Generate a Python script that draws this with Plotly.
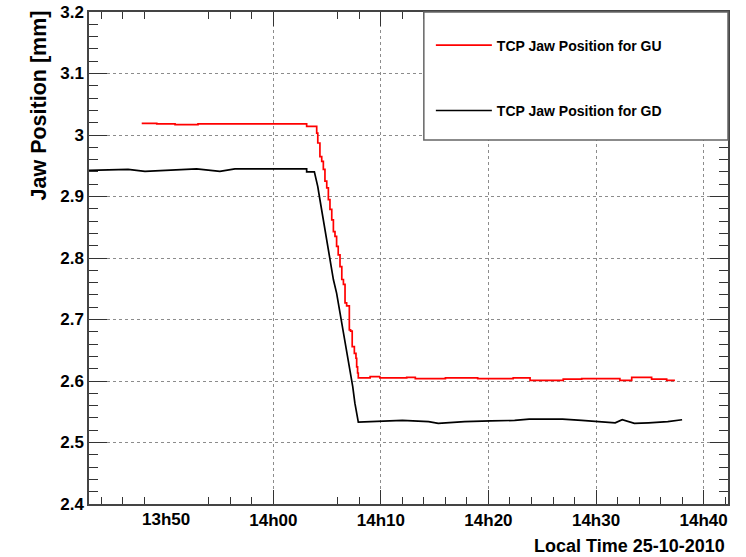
import plotly.graph_objects as go

DAY = "2010-10-25 "

# TCP jaw position, GU side (red)
gu_time = ["13:47:46", "13:49:10", "13:50:52", "13:52:53", "13:53:00", "14:03:06", "14:03:06",
           "14:03:53", "14:04:02", "14:04:08", "14:04:20", "14:04:30", "14:04:39", "14:04:48",
           "14:04:58", "14:05:07", "14:05:16", "14:05:26", "14:05:35", "14:05:44", "14:05:53",
           "14:06:02", "14:06:12", "14:06:22", "14:06:31", "14:06:40", "14:06:49", "14:07:04",
           "14:07:11", "14:07:20", "14:07:32", "14:07:41", "14:07:45", "14:07:50", "14:07:54",
           "14:09:00", "14:09:54", "14:12:24", "14:13:12", "14:16:00", "14:19:00", "14:22:18",
           "14:23:52", "14:26:57", "14:28:40", "14:32:13", "14:33:19", "14:35:10", "14:36:34",
           "14:37:20"]
gu_pos = [3.019, 3.018, 3.017, 3.017, 3.018, 3.018, 3.014,
          3.014, 3.003, 2.987, 2.965, 2.957, 2.944, 2.925,
          2.914, 2.895, 2.879, 2.862, 2.843, 2.835, 2.819,
          2.805, 2.786, 2.765, 2.757, 2.727, 2.722, 2.683,
          2.681, 2.656, 2.645, 2.637, 2.623, 2.613, 2.605,
          2.607, 2.605, 2.606, 2.604, 2.605, 2.604, 2.605,
          2.601, 2.603, 2.604, 2.601, 2.606, 2.603, 2.601,
          2.601]

# TCP jaw position, GD side (black)
gd_time = ["13:42:00", "13:46:30", "13:48:04", "13:50:52", "13:52:52", "13:55:02", "13:56:26",
           "14:03:06", "14:03:06", "14:03:49", "14:03:58", "14:04:08", "14:04:17", "14:04:26",
           "14:04:35", "14:04:44", "14:04:54", "14:05:03", "14:05:13", "14:05:22", "14:05:35",
           "14:05:53", "14:06:12", "14:06:31", "14:06:49", "14:07:08", "14:07:23", "14:07:35",
           "14:07:45", "14:07:54", "14:12:00", "14:14:26", "14:15:20", "14:17:47", "14:20:13",
           "14:22:26", "14:23:47", "14:26:53", "14:28:40", "14:30:08", "14:31:47", "14:32:26",
           "14:33:34", "14:34:53", "14:36:40", "14:38:00"]
gd_pos = [2.942, 2.944, 2.941, 2.944, 2.945, 2.941, 2.945,
          2.945, 2.940, 2.940, 2.930, 2.916, 2.900, 2.884,
          2.868, 2.851, 2.835, 2.819, 2.800, 2.786, 2.765,
          2.743, 2.711, 2.678, 2.646, 2.618, 2.591, 2.564,
          2.548, 2.533, 2.536, 2.534, 2.531, 2.534, 2.535,
          2.536, 2.538, 2.538, 2.536, 2.534, 2.532, 2.537,
          2.531, 2.532, 2.534, 2.537]

x_major = ["14:00", "14:10", "14:20", "14:30", "14:40"]
x_major_text = ["14h00", "14h10", "14h20", "14h30", "14h40"]
# 13h50 is labelled but has no tick or grid line in the original
x_extra = "13:50"
x_extra_text = "13h50"
x_minor = ["13:44", "13:46", "13:48", "13:54", "13:56", "13:58", "14:06", "14:08",
           "14:12", "14:14", "14:16", "14:18", "14:22", "14:24", "14:26", "14:28",
           "14:32", "14:34", "14:36", "14:38", "14:42"]
x_range = ["13:42:52", "14:42:16"]

y_ticks = [2.4, 2.5, 2.6, 2.7, 2.8, 2.9, 3.0, 3.1, 3.2]
y_text = ["2.4", "2.5", "2.6", "2.7", "2.8", "2.9", "3", "3.1", "3.2"]

FONT = "Liberation Sans, Arial, sans-serif"


def ts(lst):
    return [DAY + t for t in lst]


fig = go.Figure()
fig.add_trace(go.Scatter(x=ts(gu_time), y=gu_pos, mode="lines", line=dict(color="#ff0000", width=1.7, shape="hv"),
                         name="TCP Jaw Position for GU", legend="legend"))
fig.add_trace(go.Scatter(x=ts(gd_time), y=gd_pos, mode="lines", line=dict(color="#000000", width=1.7),
                         name="TCP Jaw Position for GD", legend="legend2"))

grid = dict(showgrid=True, gridcolor="#8c8c8c", griddash="dot", gridwidth=1)

fig.update_layout(
    width=746, height=557,
    margin=dict(l=89, r=18, t=12, b=53),
    paper_bgcolor="white", plot_bgcolor="white",
    showlegend=True,
    font=dict(family=FONT, size=17, color="black", weight="bold"),
    xaxis=dict(type="date", range=ts(x_range), tickmode="array", tickvals=ts(x_major), ticktext=x_major_text,
               ticks="inside", ticklen=14, tickcolor="#333", showline=True, linecolor="#444", linewidth=1.5,
               mirror="ticks", zeroline=False, automargin=False,
               minor=dict(tickmode="array", tickvals=ts(x_minor), ticks="inside", ticklen=7, tickcolor="#333",
                          showgrid=False),
               tickfont=dict(size=17), **grid),
    yaxis=dict(range=[2.4, 3.2], tickmode="array", tickvals=y_ticks, ticktext=y_text,
               ticks="inside", ticklen=18, tickcolor="#333", showline=True, linecolor="#444", linewidth=1.5,
               mirror="ticks", zeroline=False, automargin=False,
               minor=dict(dtick=0.02, ticks="inside", ticklen=9, tickcolor="#333", showgrid=False),
               tickfont=dict(size=17), **grid),
    legend=dict(x=0.535, y=0.932, xanchor="left", yanchor="middle", bgcolor="rgba(0,0,0,0)",
                font=dict(size=14), itemwidth=56),
    legend2=dict(x=0.535, y=0.799, xanchor="left", yanchor="middle", bgcolor="rgba(0,0,0,0)",
                 font=dict(size=14), itemwidth=56),
    shapes=[dict(type="rect", xref="paper", yref="paper", x0=0.524, x1=1.0, y0=0.740, y1=1.0,
                 line=dict(color="#666666", width=1.5), fillcolor="white", layer="above")],
    annotations=[
        dict(text=x_extra_text, xref="x", yref="paper", x=DAY + x_extra, y=-0.0315,
             showarrow=False, font=dict(size=17), xanchor="center", yanchor="middle"),
        dict(text="Jaw Position [mm]", xref="paper", yref="paper", x=-0.0775, y=0.811, textangle=-90,
             showarrow=False, font=dict(size=21.5), xanchor="center", yanchor="middle"),
        dict(text="Local Time 25-10-2010", xref="paper", yref="paper", x=0.9984, y=-0.0854,
             showarrow=False, font=dict(size=18), xanchor="right", yanchor="middle"),
    ],
)

fig.write_html("out.html", config={"displayModeBar": False},
               post_script="document.body.style.margin='0';")
